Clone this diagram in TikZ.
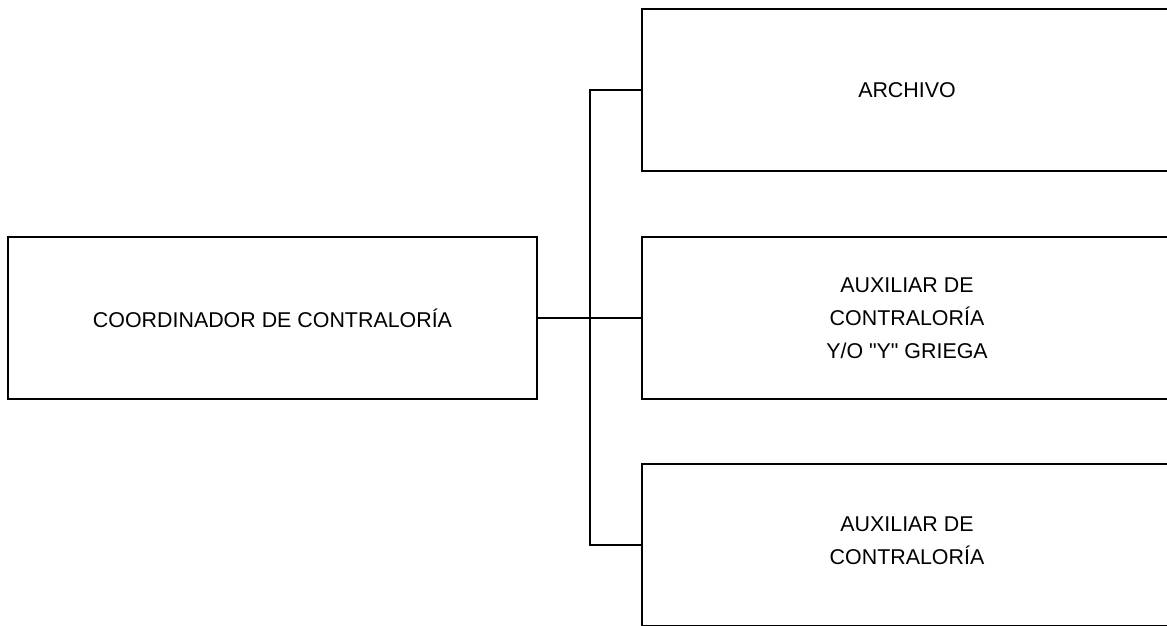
\documentclass[tikz,border=0pt]{standalone}
\usepackage{fontspec}
\setmainfont{Liberation Sans}
% plain family without TeX ligature mapping, so " stays a straight quote
\newfontfamily\boxfont{Liberation Sans}
\begin{document}
\begin{tikzpicture}[x=1pt,y=-1pt,
  orgbox/.style={draw=black, line width=2.8pt, rectangle, align=center,
    font=\boxfont\fontsize{21.4}{33}\selectfont, inner sep=0pt},
  link/.style={draw=black, line width=2.8pt}]
\useasboundingbox (0,0) rectangle (1167,625);
% head box on the left
\node[orgbox, minimum width=529pt, minimum height=162pt] (coord) at (272.5,318)
  {COORDINADOR DE CONTRALORÍA};
% subordinate boxes on the right
\node[orgbox, minimum width=530pt, minimum height=162pt] (archivo) at (907,90)
  {ARCHIVO};
\node[orgbox, minimum width=530pt, minimum height=162pt] (aux1) at (907,318)
  {AUXILIAR DE\\CONTRALORÍA\\Y/O "Y" GRIEGA};
\node[orgbox, minimum width=530pt, minimum height=162pt] (aux2) at (907,545)
  {AUXILIAR DE\\CONTRALORÍA\\[-34pt]\strut};
% branching connector
\coordinate (trunk) at (590,318);
\draw[link] (coord.east) -- (coord.east -| aux1.west);
\draw[link] (archivo.west) -- (archivo.west -| trunk) -- (aux2.west -| trunk) -- (aux2.west);
\end{tikzpicture}
\end{document}
